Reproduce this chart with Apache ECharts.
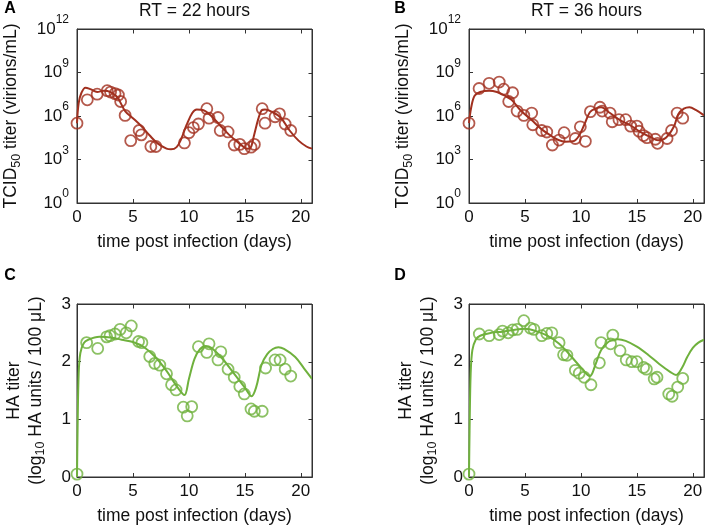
<!DOCTYPE html>
<html><head><meta charset="utf-8">
<script src="https://cdn.jsdelivr.net/npm/echarts@6/dist/echarts.min.js"></script>
<style>html,body{margin:0;padding:0;background:#fff}#c{width:708px;height:528px}</style>
</head><body><div id="c"></div><script>
// ---- Panel A: RT = 22 hours, TCID50 titer (virions/mL) ----
const daysA  = [0, 0.92, 1.8, 2.7, 3.0, 3.4, 3.7, 3.9, 4.3, 4.8, 5.55, 5.75, 6.6, 7.05, 9.6, 10.0, 10.4, 10.85, 11.6, 11.8, 12.6, 12.8, 13.5, 14.05, 14.55, 14.95, 15.55, 15.85, 16.55, 16.8, 17.7, 18.1, 18.6, 19.1];
const titerA = [3.2e5, 1.3e7, 3.2e7, 5.6e7, 4.5e7, 3.5e7, 2.8e7, 1.0e7, 1.1e6, 2.0e4, 1.0e5, 5.0e4, 7.9e3, 7.9e3, 1.4e4, 7.1e4, 1.6e5, 2.8e5, 3.2e6, 7.1e5, 7.9e5, 1.0e5, 8.0e4, 1.0e4, 1.1e4, 5.6e3, 7.1e3, 1.1e4, 3.2e6, 3.2e5, 8.9e5, 1.4e6, 2.8e5, 1.0e5];
const fitDaysA = [0, 0.15, 0.4, 0.75, 1.2, 1.8, 2.4, 3.0, 3.6, 4.3, 5.0, 5.75, 6.5, 7.2, 8.0, 8.4, 8.9, 9.3, 9.8, 10.3, 10.7, 11.3, 12.0, 12.8, 13.6, 14.5, 15.2, 15.5, 15.8, 16.2, 16.5, 16.8, 17.5, 18.2, 19.0, 19.8, 20.5, 21];
const fitA = [3.2e5, 7.9e6, 4.0e7, 8.9e7, 7.1e7, 4.5e7, 5.6e7, 4.5e7, 2.0e7, 2.2e6, 7.1e5, 2.0e5, 4.5e4, 1.3e4, 5.6e3, 5.0e3, 7.1e3, 2.5e4, 2.5e5, 1.6e6, 2.8e6, 2.5e6, 1.0e6, 2.2e5, 5.0e4, 1.3e4, 5.6e3, 6.3e3, 4.0e4, 6.3e5, 2.5e6, 2.8e6, 1.8e6, 7.9e5, 1.0e5, 2.0e4, 7.9e3, 5.6e3];

// ---- Panel B: RT = 36 hours ----
const daysB  = [0, 0.9, 1.8, 2.7, 3.1, 3.55, 3.9, 4.3, 4.9, 5.6, 5.7, 6.5, 6.95, 7.45, 8.05, 8.5, 9.5, 9.95, 10.4, 10.85, 11.7, 11.9, 12.6, 12.8, 13.4, 14.0, 14.45, 15.0, 15.2, 15.6, 15.9, 16.65, 16.85, 17.7, 18.1, 18.6, 19.1];
const titerB = [3.2e5, 7.9e7, 1.8e8, 2.2e8, 7.1e7, 1.0e7, 4.0e7, 2.2e6, 1.1e6, 1.6e6, 2.5e5, 1.0e5, 7.9e4, 1.0e4, 2.2e4, 7.1e4, 2.8e4, 1.8e5, 1.8e4, 2.0e6, 4.0e6, 2.2e6, 1.6e6, 4.0e5, 5.6e5, 5.6e5, 2.0e5, 2.0e5, 8.9e4, 4.5e4, 3.2e4, 2.5e4, 1.3e4, 2.8e4, 1.0e5, 1.6e6, 7.1e5];
const fitDaysB = [0, 0.2, 0.5, 1.0, 1.8, 2.5, 3.2, 3.8, 4.6, 5.6, 6.5, 7.3, 8.0, 8.6, 9.3, 9.8, 10.3, 10.8, 11.3, 11.8, 12.6, 13.5, 14.4, 15.3, 16.2, 16.9, 17.6, 18.3, 18.7, 19.2, 19.7, 20.3, 21];
const fitB = [3.2e5, 4.0e6, 2.5e7, 4.5e7, 5.6e7, 4.5e7, 2.5e7, 1.3e7, 2.5e6, 5.2e5, 1.2e5, 4.5e4, 2.2e4, 1.7e4, 1.8e4, 4.0e4, 2.5e5, 1.8e6, 3.2e6, 4.0e6, 1.6e6, 5.2e5, 2.3e5, 8.1e4, 3.6e4, 2.1e4, 3.2e4, 1.8e5, 1.3e6, 3.2e6, 4.0e6, 2.5e6, 1.1e6];

// ---- Panel C: HA titer, RT = 22 hours ----
const daysC = [0, 0.86, 1.85, 2.65, 2.95, 3.4, 3.85, 4.4, 4.85, 5.5, 5.8, 6.5, 6.95, 7.4, 8.0, 8.45, 8.85, 9.5, 9.85, 10.25, 10.85, 11.6, 11.8, 12.6, 12.85, 13.5, 14.05, 14.55, 14.95, 15.55, 15.85, 16.55, 16.85, 17.7, 18.15, 18.6, 19.1];
const haC   = [0.05, 2.33, 2.23, 2.43, 2.45, 2.48, 2.56, 2.5, 2.62, 2.35, 2.33, 2.09, 1.97, 1.94, 1.79, 1.6, 1.51, 1.21, 1.06, 1.22, 2.26, 2.16, 2.31, 2.03, 2.17, 1.87, 1.73, 1.57, 1.44, 1.18, 1.14, 1.14, 1.89, 2.03, 2.03, 1.87, 1.75];
const fitDaysC = [0, 0.05, 0.15, 0.3, 0.6, 1.0, 2.0, 3.0, 4.0, 5.0, 6.0, 7.0, 8.0, 9.0, 9.6, 10.0, 10.5, 11.0, 11.5, 12.0, 13.0, 14.0, 15.0, 15.6, 16.0, 16.5, 17.0, 17.5, 18.0, 18.5, 19.5, 20.3, 21];
const fitC = [0, 0.8, 1.8, 2.15, 2.32, 2.38, 2.43, 2.42, 2.38, 2.34, 2.25, 2.08, 1.84, 1.55, 1.42, 1.7, 2.05, 2.22, 2.27, 2.24, 2.05, 1.8, 1.55, 1.4, 1.55, 1.95, 2.13, 2.22, 2.25, 2.22, 2.08, 1.88, 1.7];

// ---- Panel D: HA titer, RT = 36 hours ----
const daysD = [0, 0.92, 1.8, 2.7, 3.0, 3.5, 3.9, 4.3, 4.9, 5.5, 5.8, 6.5, 6.95, 7.4, 8.05, 8.45, 8.75, 9.5, 9.85, 10.3, 10.9, 11.65, 11.8, 12.65, 12.85, 13.5, 14.05, 14.55, 15.0, 15.6, 15.85, 16.55, 16.8, 17.85, 18.15, 18.65, 19.1];
const haD   = [0.05, 2.48, 2.45, 2.47, 2.53, 2.5, 2.55, 2.56, 2.71, 2.58, 2.56, 2.45, 2.49, 2.5, 2.33, 2.12, 2.11, 1.85, 1.8, 1.73, 1.6, 1.98, 2.33, 2.31, 2.46, 2.19, 2.03, 2.0, 2.0, 1.9, 1.87, 1.7, 1.73, 1.44, 1.4, 1.56, 1.71];
const fitDaysD = [0, 0.05, 0.15, 0.3, 0.6, 1.0, 2.0, 3.0, 4.0, 5.0, 6.0, 7.0, 8.0, 9.0, 10.0, 10.8, 11.3, 11.8, 12.5, 13.3, 14.0, 15.0, 16.0, 17.0, 18.0, 18.5, 19.0, 19.5, 20.0, 20.5, 21];
const fitD = [0, 0.8, 1.8, 2.2, 2.38, 2.45, 2.5, 2.52, 2.55, 2.57, 2.53, 2.45, 2.32, 2.12, 1.9, 1.75, 1.95, 2.2, 2.35, 2.39, 2.36, 2.26, 2.12, 1.96, 1.82, 1.77, 1.88, 2.08, 2.24, 2.33, 2.38];

// ---- axis ticks / labels ----
const xTicks = {min: 0, max: 21, interval: 5};
const logTicks = {min: 1, max: 1e12, interval: 3};
const haTicks = {min: 0, max: 3, interval: 1};
const xTickValues = [0, 5, 10, 15, 20];
const logTickValues = [1, 1e3, 1e6, 1e9, 1e12];
const haTickValues = [0, 1, 2, 3];
const titles = ['RT = 22 hours', 'RT = 36 hours'];
const panelLetters = ['A', 'B', 'C', 'D'];
const xName = 'time post infection (days)';

const RED = '#a1301f', GREEN = '#6fb13d';
const FONT = '"Liberation Sans", Arial, Helvetica, sans-serif';
const TXT = '#111';
const AX = '#333';

const zip = (a, b) => a.map((v, i) => [v, b[i]]);

const gridBoxes = [
  {left: 77, top: 29, width: 235, height: 174},
  {left: 469, top: 29, width: 235, height: 174},
  {left: 77, top: 304, width: 235, height: 173},
  {left: 469, top: 304, width: 235, height: 173}
];
const grids = gridBoxes.map(g => Object.assign({containLabel: false, outerBoundsMode: 'none',
  show: true, borderColor: AX, borderWidth: 1, backgroundColor: 'transparent'}, g));

const tickStyle = () => ({show: true, inside: true, length: 4, lineStyle: {color: AX}});
const axLine = () => ({show: true, onZero: false, lineStyle: {color: AX, width: 1}});

function xAxisBottom(gi) {
  return Object.assign({
    type: 'value', gridIndex: gi, position: 'bottom',
    axisLine: axLine(), axisTick: tickStyle(),
    axisLabel: {showMaxLabel: false, margin: 6, fontSize: 17, color: TXT, fontFamily: FONT},
    splitLine: {show: false},
    name: xName, nameLocation: 'middle', nameGap: 30,
    nameTextStyle: {fontSize: 17.5, color: TXT, fontFamily: FONT}
  }, xTicks);
}
const supRich = {
  b: {fontSize: 17, lineHeight: 30, color: TXT, fontFamily: FONT},
  s: {fontSize: 12, lineHeight: 12, verticalAlign: 'top', color: TXT, fontFamily: FONT}
};
const subRich = {
  sub: {fontSize: 12.5, lineHeight: 12, verticalAlign: 'bottom', color: TXT, fontFamily: FONT}
};
function yAxisLog(gi) {
  return Object.assign({
    type: 'log', logBase: 10, gridIndex: gi, position: 'left',
    axisLine: axLine(), axisTick: tickStyle(),
    axisLabel: {margin: 8, color: TXT, fontFamily: FONT,
      formatter: v => '{b|10}{s|' + Math.round(Math.log10(v)) + '}', rich: supRich},
    splitLine: {show: false},
    name: 'TCID{sub|50} titer (virions/mL)', nameLocation: 'middle', nameRotate: 90, nameGap: 54,
    nameTextStyle: {fontSize: 17.5, lineHeight: 23, color: TXT, fontFamily: FONT, rich: subRich}
  }, logTicks);
}
function yAxisHA(gi) {
  return Object.assign({
    type: 'value', gridIndex: gi, position: 'left',
    axisLine: axLine(), axisTick: tickStyle(),
    axisLabel: {margin: 6, fontSize: 17, color: TXT, fontFamily: FONT},
    splitLine: {show: false},
    name: 'HA titer\n(log{sub|10} HA units / 100 μL)', nameLocation: 'middle', nameRotate: 90, nameGap: 30,
    nameTextStyle: {fontSize: 17.5, lineHeight: 22, color: TXT, fontFamily: FONT, rich: subRich}
  }, haTicks);
}

function scatter(gi, xs, ys, color) {
  return {type: 'scatter', xAxisIndex: gi, yAxisIndex: gi, data: zip(xs, ys),
    symbol: 'circle', symbolSize: 11,
    itemStyle: {color: 'rgba(0,0,0,0)', borderColor: color, borderWidth: 1.8}};
}
function fit(gi, xs, ys, color) {
  return {type: 'line', xAxisIndex: gi, yAxisIndex: gi, data: zip(xs, ys),
    showSymbol: false, smooth: 0.35,
    lineStyle: {color: color, width: 2}};
}

const option = {
  animation: false,
  backgroundColor: '#fff',
  grid: grids,
  xAxis: [xAxisBottom(0), xAxisBottom(1), xAxisBottom(2), xAxisBottom(3)],
  yAxis: [yAxisLog(0), yAxisLog(1), yAxisHA(2), yAxisHA(3)],
  series: [
    fit(0, fitDaysA, fitA, RED), scatter(0, daysA, titerA, RED),
    fit(1, fitDaysB, fitB, RED), scatter(1, daysB, titerB, RED),
    fit(2, fitDaysC, fitC, GREEN), scatter(2, daysC, haC, GREEN),
    fit(3, fitDaysD, fitD, GREEN), scatter(3, daysD, haD, GREEN)
  ]
};

const chart = echarts.init(document.getElementById('c'), null, {renderer: 'canvas'});
chart.setOption(option);

// Titles, panel letters, and the box frame with inward ticks on the top/right sides (own canvas layer)
const graphics = [];
titles.forEach((t, i) => {
  const g = gridBoxes[i];
  graphics.push({type: 'text', x: g.left + g.width / 2, y: 11,
    style: {text: t, align: 'center', verticalAlign: 'middle', fontSize: 17.5, fontFamily: FONT, fill: TXT}});
});
panelLetters.forEach((l, i) => {
  graphics.push({type: 'text', x: i % 2 === 0 ? 10 : 400, y: i < 2 ? 9 : 276,
    style: {text: l, align: 'center', verticalAlign: 'middle', fontSize: 16, fontWeight: 'bold', fontFamily: FONT, fill: '#000'}});
});
const crisp = v => Math.round(v) + 0.5;
const frameLine = (x1, y1, x2, y2) => ({type: 'line', silent: true, zlevel: 1, z: 10,
  shape: {x1: x1, y1: y1, x2: x2, y2: y2}, style: {stroke: AX, lineWidth: 1}});
gridBoxes.forEach((g, gi) => {
  const top = crisp(g.top), right = crisp(g.left + g.width);
  graphics.push(frameLine(crisp(g.left), top, right, top));
  graphics.push(frameLine(right, top, right, crisp(g.top + g.height)));
  xTickValues.forEach(v => {
    const px = crisp(chart.convertToPixel({xAxisIndex: gi}, v));
    if (isFinite(px)) graphics.push(frameLine(px, top, px, top + 4));
  });
  (gi < 2 ? logTickValues : haTickValues).forEach(v => {
    const py = crisp(chart.convertToPixel({yAxisIndex: gi}, v));
    if (isFinite(py)) graphics.push(frameLine(right - 4, py, right, py));
  });
});
chart.setOption({graphic: graphics});
</script></body></html>
